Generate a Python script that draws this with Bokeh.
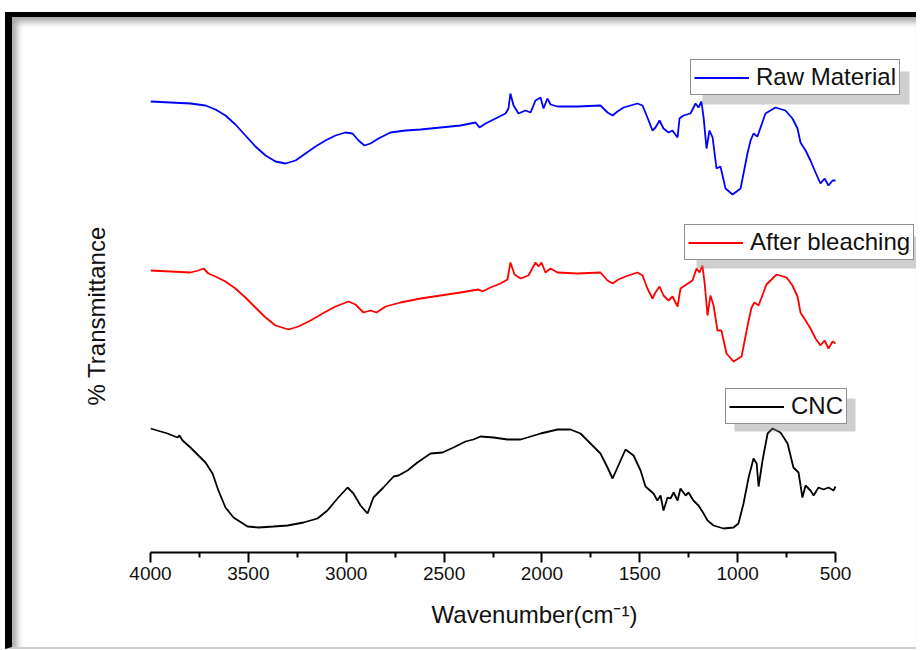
from bokeh.plotting import figure
from bokeh.models import Range1d, FixedTicker, Legend, LegendItem, Title, BoxAnnotation
from bokeh.embed import file_html
from bokeh.resources import INLINE

# ---- data (transmittance in arbitrary offset units) ----
wn_raw = [4000, 3898, 3796, 3719, 3668, 3617, 3566, 3515, 3464, 3412, 3361, 3310, 3259, 3208,
          3157, 3106, 3055, 3004, 2968, 2937, 2907, 2876, 2835, 2774, 2697, 2620, 2518, 2416,
          2339, 2319, 2288, 2237, 2186, 2171, 2161, 2145, 2120, 2084, 2058, 2033, 2007, 1992,
          1972, 1956, 1920, 1818, 1701, 1665, 1639, 1614, 1583, 1512, 1486, 1461, 1435, 1420,
          1399, 1379, 1353, 1333, 1307, 1297, 1277, 1241, 1215, 1200, 1185, 1174, 1159, 1144,
          1128, 1108, 1088, 1062, 1026, 985, 950, 934, 919, 899, 858, 807, 756, 720, 694, 679,
          653, 628, 602, 577, 556, 536, 515, 500]
t_raw = [451, 450, 449, 447, 443, 437, 428, 417, 406, 397, 391, 389, 392, 399,
         406, 412, 417, 420, 419, 412, 407, 409, 414, 420, 422, 423, 425, 427,
         430, 425, 429, 434, 439, 444, 459, 447, 439, 442, 440, 452, 455, 444,
         454, 448, 446, 446, 447, 440, 437, 441, 445, 449, 447, 435, 422, 425,
         432, 424, 420, 422, 415, 434, 437, 439, 449, 445, 451, 435, 404, 422,
         415, 384, 386, 364, 358, 364, 399, 412, 419, 416, 439, 445, 442, 434, 424, 410,
         402, 392, 380, 369, 374, 367, 372, 372]

wn_bleach = [4000, 3898, 3796, 3755, 3729, 3704, 3668, 3617, 3566, 3515, 3464, 3412, 3361, 3295,
             3244, 3182, 3121, 3055, 2988, 2953, 2912, 2876, 2845, 2799, 2723, 2620, 2518, 2416,
             2324, 2304, 2263, 2212, 2176, 2161, 2140, 2109, 2069, 2033, 2017, 2002, 1982, 1956,
             1920, 1818, 1701, 1665, 1639, 1609, 1573, 1512, 1486, 1461, 1435, 1420, 1399, 1379,
             1353, 1333, 1307, 1292, 1262, 1231, 1210, 1195, 1180, 1169, 1154, 1139, 1123, 1103,
             1083, 1057, 1021, 980, 944, 929, 914, 893, 853, 801, 750, 720, 694, 679, 653, 628,
             602, 577, 556, 536, 515, 500]
t_bleach = [282, 281, 280, 282, 284, 279, 276, 271, 264, 255, 245, 235, 227, 223,
            226, 232, 239, 246, 251, 248, 240, 242, 240, 246, 250, 254, 257, 260,
            263, 261, 265, 269, 273, 290, 278, 274, 277, 290, 286, 290, 280, 284,
            280, 279, 280, 272, 269, 273, 276, 280, 277, 264, 254, 260, 266, 257,
            252, 256, 246, 264, 268, 272, 284, 280, 287, 270, 237, 257, 247, 222,
            222, 199, 191, 196, 232, 245, 250, 247, 268, 278, 275, 267, 256, 240, 232, 224,
            214, 207, 212, 204, 211, 209]

wn_cnc = [4000, 3913, 3862, 3852, 3836, 3796, 3755, 3719, 3683, 3653, 3617, 3576, 3504, 3448,
          3372, 3300, 3218, 3147, 3096, 3045, 2993, 2963, 2927, 2891, 2861, 2810, 2758, 2733,
          2687, 2636, 2569, 2508, 2452, 2391, 2350, 2314, 2247, 2176, 2109, 2074, 2007, 1920,
          1854, 1803, 1752, 1701, 1665, 1639, 1614, 1573, 1532, 1496, 1471, 1430, 1410, 1394,
          1379, 1358, 1343, 1327, 1307, 1292, 1266, 1251, 1226, 1200, 1174, 1154, 1123, 1072,
          1021, 996, 970, 944, 919, 903, 893, 873, 847, 822, 781, 745, 715, 689, 669, 653,
          628, 612, 587, 561, 536, 510, 500]
t_cnc = [124, 119, 115, 117, 112, 105, 97, 90, 79, 62, 45, 35, 26, 25,
         26, 27, 30, 34, 42, 54, 65, 59, 47, 39, 55, 65, 76, 77,
         82, 90, 99, 100, 105, 111, 113, 116, 115, 113, 113, 115, 119, 123,
         123, 119, 109, 99, 85, 74, 85, 103, 97, 82, 66, 59, 52, 57,
         42, 55, 54, 60, 52, 64, 57, 60, 52, 47, 39, 32, 27, 24,
         25, 29, 49, 75, 94, 89, 66, 92, 119, 124, 120, 109, 85, 80, 55, 67,
         62, 57, 65, 63, 65, 62, 66]

x_ticks = [500, 1000, 1500, 2000, 2500, 3000, 3500, 4000]
x_minor = [750, 1250, 1750, 2250, 2750, 3250, 3750]

FONT = "Liberation Sans"

p = figure(width=911, height=637, output_backend="svg", toolbar_location=None,
           x_range=Range1d(4000, 76), y_range=Range1d(0, 532), y_axis_location=None,
           min_border_left=138, min_border_right=5, min_border_top=3, min_border_bottom=102)
# picture frame: thick black edge at top/left with a soft inner shadow
p.styles = {"margin-top": "12px", "margin-left": "5px",
            "border-top": "5px solid black", "border-left": "7px solid black",
            "border-bottom": "2px solid #d0d0d0",
            "box-shadow": "inset 5px 5px 6px rgba(0,0,0,0.35)"}
p.background_fill_color = None
p.border_fill_color = None
p.outline_line_color = None
p.xgrid.visible = False
p.ygrid.visible = False

# x axis
xa = p.xaxis[0]
xa.bounds = (500, 4000)
xa.ticker = FixedTicker(ticks=x_ticks, minor_ticks=x_minor)
xa.axis_line_width = 2
xa.axis_line_color = "black"
xa.major_tick_line_width = 2
xa.major_tick_line_color = "black"
xa.major_tick_out = 10
xa.major_tick_in = 0
xa.minor_tick_line_width = 2
xa.minor_tick_line_color = "black"
xa.minor_tick_out = 5
xa.minor_tick_in = 0
xa.major_label_text_font = FONT
xa.major_label_text_font_size = "19px"
xa.major_label_text_color = "#111111"
xa.major_label_standoff = 4
xa.axis_label = "Wavenumber(cm\u207b\u00b9)"
xa.axis_label_text_font = FONT
xa.axis_label_text_font_size = "24px"
xa.axis_label_text_font_style = "normal"
xa.axis_label_text_color = "#111111"
xa.axis_label_standoff = 18

# y title (no visible y axis in the reference)
ytitle = Title(text="% Transmittance", align="left", offset=147,
               text_font=FONT, text_font_size="24px", text_font_style="normal",
               text_color="#111111", standoff=82)
p.add_layout(ytitle, "left")

r_raw = p.line(wn_raw, t_raw, line_color="#0000FF", line_width=1.8)
r_bl = p.line(wn_bleach, t_bleach, line_color="#FF0000", line_width=1.8)
r_cnc = p.line(wn_cnc, t_cnc, line_color="black", line_width=1.8)

# soft drop shadows behind the legend boxes (canvas pixels)
for (l, r, t, b) in [(683, 890, 49, 82), (677, 905, 214, 246), (715, 836, 376, 409)]:
    p.add_layout(BoxAnnotation(left=l, right=r, top=t, bottom=b,
                               left_units="canvas", right_units="canvas",
                               top_units="canvas", bottom_units="canvas",
                               fill_color="#888888", fill_alpha=0.4, line_color=None,
                               level="annotation"))


def add_legend(label, rend, loc):
    leg = Legend(items=[LegendItem(label=label, renderers=[rend])], location=loc,
                 label_text_font=FONT, label_text_font_size="24px", label_text_color="#111111",
                 glyph_width=55, glyph_height=27, label_height=27, label_standoff=7,
                 padding=3, margin=0, spacing=0,
                 border_line_color="#222222", border_line_width=1,
                 background_fill_color="white", background_fill_alpha=1.0)
    p.add_layout(leg)


add_legend("Raw Material", r_raw, (540, 457))
add_legend("After bleaching", r_bl, (534, 292))
add_legend("CNC", r_cnc, (575, 128))

open("out.html", "w").write(file_html(p, INLINE))
